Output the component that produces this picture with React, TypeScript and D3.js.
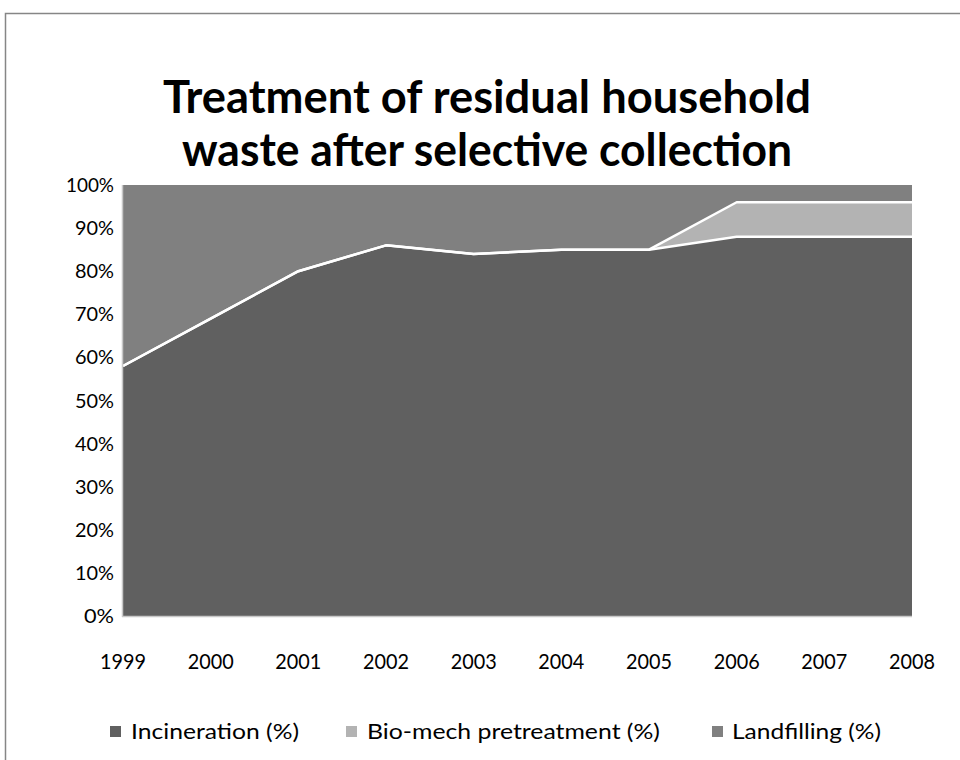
import React from "react";
import * as d3 from "d3";

const years = [1999, 2000, 2001, 2002, 2003, 2004, 2005, 2006, 2007, 2008];
const incineration = [58, 69, 80, 86, 84, 85, 85, 88, 88, 88];
const bioMech = [0, 0, 0, 0, 0, 0, 0, 8, 8, 8];
const landfilling = [42, 31, 20, 14, 16, 15, 15, 4, 4, 4];
const seriesNames = ["Incineration (%)", "Bio-mech pretreatment (%)", "Landfilling (%)"];
const seriesColors = ["#606060", "#b3b3b3", "#808080"];
const yTicks = [0, 10, 20, 30, 40, 50, 60, 70, 80, 90, 100];
const titleLines = ["Treatment of residual household", "waste after selective collection"];

const W = 960;
const H = 760;
const plot = { left: 123, right: 912, top: 185, bottom: 616 };
const FONT = "Lato, 'Open Sans', sans-serif";

export default function App() {
  const x = d3.scalePoint<number>().domain(years).range([plot.left, plot.right]);
  const y = d3.scaleLinear().domain([0, 100]).range([plot.bottom, plot.top]);

  const rows = years.map((yr, i) => ({
    year: yr,
    inc: incineration[i],
    bio: bioMech[i],
    land: landfilling[i],
  }));
  const stack = d3.stack<any>().keys(["inc", "bio", "land"]).offset(d3.stackOffsetExpand);
  const stacked = stack(rows);

  const area = d3
    .area<any>()
    .x((d) => x(d.data.year) as number)
    .y0((d) => y(d[0] * 100))
    .y1((d) => y(d[1] * 100));
  const topLine = d3
    .line<any>()
    .x((d) => x(d.data.year) as number)
    .y((d) => y(d[1] * 100));

  const legendItems = [
    { sx: 110, tx: 131 },
    { sx: 346, tx: 367 },
    { sx: 712, tx: 732 },
  ];
  const legendWidths = [168, 293, 149];

  return (
    <div style={{ position: "absolute", left: 0, top: 0 }}>
      <svg width={W} height={H} style={{ display: "block", background: "#fff" }}>
        <rect x={5.5} y={13.5} width={W + 20} height={H + 20} fill="#fff" stroke="#868686" strokeWidth={1.5} />
        {titleLines.map((t, i) => (
          <text
            key={t}
            x={487}
            y={113 + i * 53}
            textAnchor="middle"
            fontFamily={FONT}
            fontWeight="bold"
            fontSize={45}
            fill="#000"
            textLength={i === 0 ? 648 : 610}
            lengthAdjust="spacingAndGlyphs"
          >
            {t}
          </text>
        ))}
        {stacked.map((s, i) => (
          <path key={"a" + i} d={area(s) || ""} fill={seriesColors[i]} />
        ))}
        {stacked.slice(0, 2).map((s, i) => (
          <path
            key={"l" + i}
            d={topLine(s) || ""}
            fill="none"
            stroke="#fff"
            strokeWidth={2.5}
            strokeLinejoin="round"
          />
        ))}
        <line x1={plot.left - 0.5} x2={plot.left - 0.5} y1={plot.top} y2={plot.bottom + 1} stroke="#c8c8c8" strokeWidth={1.5} />
        <line x1={plot.left - 1} x2={plot.right} y1={plot.bottom + 0.5} y2={plot.bottom + 0.5} stroke="#c8c8c8" strokeWidth={1.5} />
        {yTicks.map((t) => (
          <text
            key={"y" + t}
            x={114}
            y={y(t) + 7}
            textAnchor="end"
            fontFamily={FONT}
            fontSize={20}
            fill="#000"
            textLength={t === 100 ? 48 : t === 0 ? 30 : 39}
            lengthAdjust="spacingAndGlyphs"
          >
            {t + "%"}
          </text>
        ))}
        {years.map((yr) => (
          <text
            key={"x" + yr}
            x={x(yr) as number}
            y={669}
            textAnchor="middle"
            fontFamily={FONT}
            fontSize={21}
            fill="#000"
            textLength={46}
            lengthAdjust="spacingAndGlyphs"
          >
            {yr}
          </text>
        ))}
        {seriesNames.map((n, i) => (
          <g key={n}>
            <rect x={legendItems[i].sx} y={726} width={11} height={11} fill={seriesColors[i]} />
            <text
              x={legendItems[i].tx}
              y={739}
              fontFamily={FONT}
              fontSize={20.5}
              fill="#000"
              textLength={legendWidths[i]}
              lengthAdjust="spacingAndGlyphs"
            >
              {n}
            </text>
          </g>
        ))}
      </svg>
    </div>
  );
}
